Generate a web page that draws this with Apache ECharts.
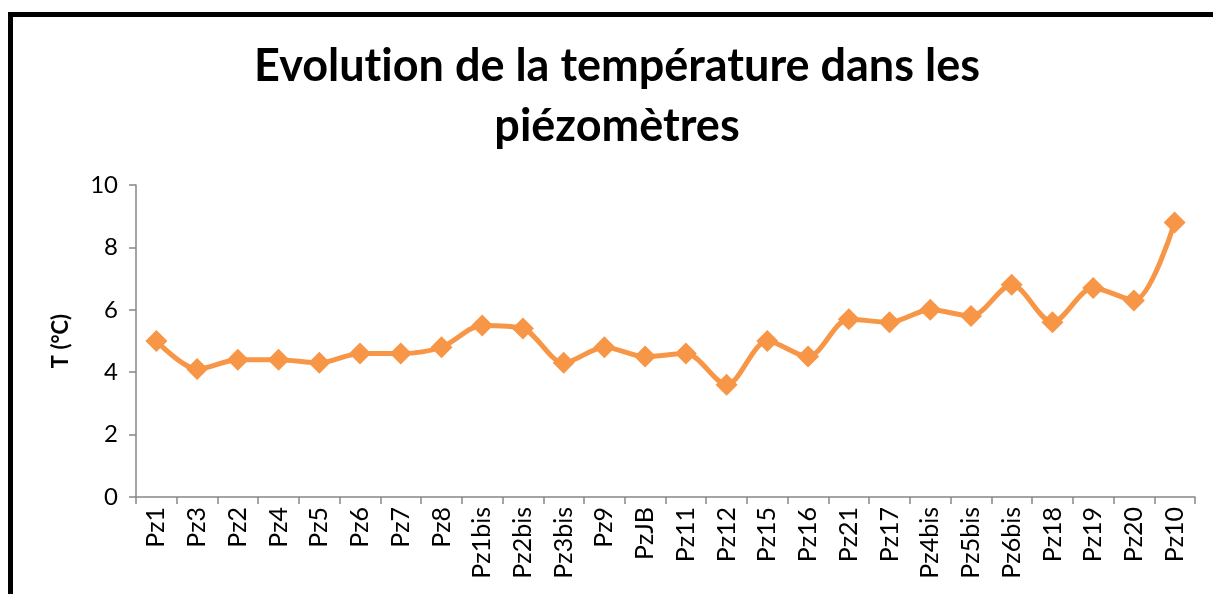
<!DOCTYPE html>
<html>
<head>
<meta charset="utf-8">
<script src="https://cdn.jsdelivr.net/npm/echarts@6/dist/echarts.min.js"></script>
<style>
html,body{margin:0;padding:0;background:#fff;}
#chart{width:1213px;height:594px;}
</style>
</head>
<body>
<div id="chart"></div>
<script>
const titleLine1 = ["Evolut", "ion de la température dans les"];
const titleLine2 = "piézomètres";
const yAxisName = "T (°C)";
const categories = ["Pz1","Pz3","Pz2","Pz4","Pz5","Pz6","Pz7","Pz8","Pz1bis","Pz2bis","Pz3bis","Pz9","PzJB","Pz11","Pz12","Pz15","Pz16","Pz21","Pz17","Pz4bis","Pz5bis","Pz6bis","Pz18","Pz19","Pz20","Pz10"];
const temperatures = [5.0,4.1,4.4,4.4,4.3,4.6,4.6,4.8,5.5,5.4,4.3,4.8,4.5,4.6,3.6,5.0,4.5,5.7,5.6,6.0,5.8,6.8,5.6,6.7,6.3,8.8];
const yTicks = {min:0, max:10, interval:2};

const chart = echarts.init(document.getElementById('chart'), null, {renderer:'canvas'});
const font = 'Lato, "Open Sans", sans-serif';
const titleStyle = {fontFamily:font,fontWeight:'bold',fontSize:45,lineHeight:60,color:'#000'};
chart.setOption({
  backgroundColor:'#ffffff',
  animation:false,
  graphic:[{
    type:'polyline',
    shape:{points:[[10.5,600],[10.5,14.5],[1220,14.5]]},
    style:{stroke:'#000',lineWidth:5,fill:null},
    z:10
  }],
  title:{
    text:titleLine1.map(s => '{t|' + s + '}').join('') + '\n{t|' + titleLine2 + '}',
    left:612, top:31, textAlign:'center',
    textStyle:Object.assign({rich:{t:titleStyle}}, titleStyle)
  },
  grid:{left:136,right:18,top:185,bottom:97,containLabel:false},
  xAxis:{
    type:'category',
    data:categories,
    boundaryGap:true,
    axisLine:{lineStyle:{color:'#868686',width:1.5}},
    axisTick:{show:true,length:7,lineStyle:{color:'#868686',width:1.5}},
    axisLabel:{rotate:90,margin:10,fontFamily:font,fontSize:25,color:'#000',interval:0},
    splitLine:{show:false}
  },
  yAxis:{
    type:'value',
    min:yTicks.min,max:yTicks.max,interval:yTicks.interval,
    name:yAxisName,nameLocation:'middle',nameRotate:90,nameGap:64,
    nameTextStyle:{fontFamily:font,fontWeight:'bold',fontSize:22,color:'#000'},
    axisLine:{show:true,lineStyle:{color:'#868686',width:1.5}},
    axisTick:{show:true,length:7,lineStyle:{color:'#868686',width:1.5}},
    axisLabel:{margin:18,fontFamily:font,fontSize:24,color:'#000'},
    splitLine:{show:false}
  },
  series:[{
    type:'line',
    data:temperatures,
    smooth:0.3,
    symbol:'diamond',
    symbolSize:22,
    lineStyle:{color:'#F79646',width:5},
    itemStyle:{color:'#F79646'}
  }]
});
</script>
</body>
</html>
